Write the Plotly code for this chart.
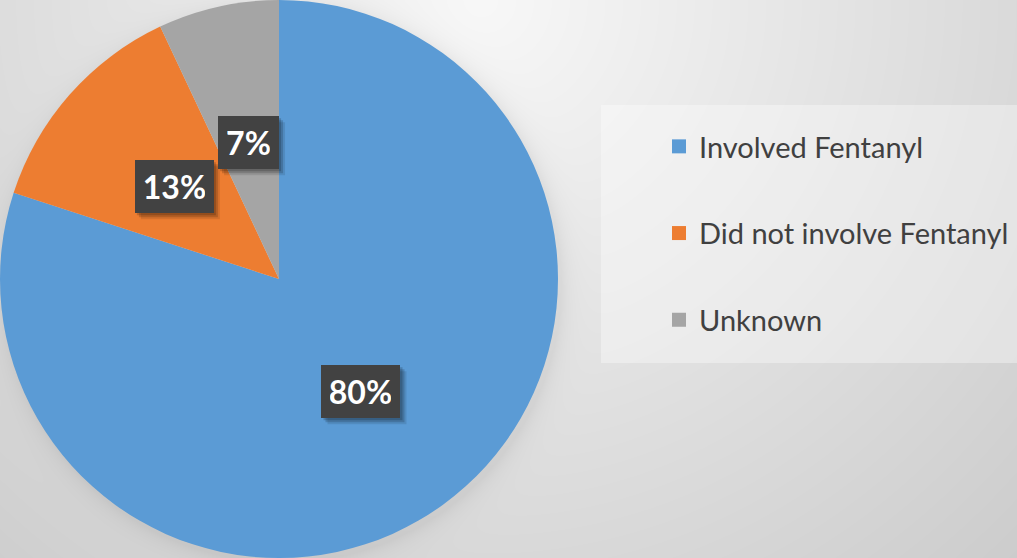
import base64, struct, zlib
import numpy as np
import plotly.graph_objects as go

# ---- data ----
categories = ["Involved Fentanyl", "Did not involve Fentanyl", "Unknown"]
values = [80, 13, 7]
label_text = ["80%", "13%", "7%"]
colors = ["#5B9BD5", "#ED7D31", "#A5A5A5"]

W, H = 1017, 558
PIE_W = 558  # pie domain width in px

# ---- background: soft radial gradient + pie shadow ----
yy, xx = np.mgrid[0:H, 0:W]
d = np.hypot(xx - 480, yy - 0)
bg = 248 - 0.056 * d
do = np.hypot(xx - 282, yy - 283) - 279
bg -= np.where(do > 0, 14 * np.exp(-do / 10.0), 14)
bg = np.clip(bg, 0, 255).astype(np.uint8)


def to_png(a):
    h, w = a.shape
    raw = b"".join(b"\x00" + a[i].tobytes() for i in range(h))

    def chunk(t, dat):
        c = struct.pack(">I", len(dat)) + t + dat
        return c + struct.pack(">I", zlib.crc32(t + dat) & 0xFFFFFFFF)

    return (b"\x89PNG\r\n\x1a\n"
            + chunk(b"IHDR", struct.pack(">IIBBBBB", w, h, 8, 0, 0, 0, 0))
            + chunk(b"IDAT", zlib.compress(raw, 9))
            + chunk(b"IEND", b""))


bg_uri = "data:image/png;base64," + base64.b64encode(to_png(bg)).decode()

fig = go.Figure()
fig.add_trace(go.Pie(
    labels=categories, values=values, sort=False, direction="clockwise",
    rotation=0, marker=dict(colors=colors, line=dict(width=0)),
    textinfo="none", hoverinfo="label+percent", showlegend=False,
    domain=dict(x=[0, PIE_W / W], y=[0, 1]),
))

# legend entries
for name, c in zip(categories, colors):
    fig.add_trace(go.Scatter(
        x=[None], y=[None], mode="markers", name=name, legendgroup=name,
        marker=dict(symbol="square", size=14, color=c, line=dict(width=0)),
    ))

# data labels at half radius of each slice's mid-angle
total = float(sum(values))
cum = 0.0
annotations = []
shapes = [dict(type="rect", xref="paper", yref="paper",
               x0=601 / W, x1=1, y0=1 - 363 / H, y1=1 - 105 / H,
               fillcolor="rgba(255,255,255,0.35)", line=dict(width=0),
               layer="below")]
cx, cy = (PIE_W / 2) / W, 0.5
rr = PIE_W / 2 * 0.5
for v, t in zip(values, label_text):
    mid = (cum + v / 2) / total * 2 * np.pi
    cum += v
    lx = cx + rr * np.sin(mid) / W
    ly = cy + rr * np.cos(mid) / H
    bw = 18 * len(t) + 7
    bh = 35
    pad = 9
    hw, hh = bw / 2 + pad, bh / 2 + pad
    for off, alpha in ((6, 0.10), (4, 0.16), (2, 0.18)):
        shapes.append(dict(type="rect", xref="paper", yref="paper",
                           xsizemode="pixel", ysizemode="pixel",
                           xanchor=lx, yanchor=ly,
                           x0=-hw + off, x1=hw + off,
                           y0=-hh - off, y1=hh - off,
                           fillcolor=f"rgba(0,0,0,{alpha})",
                           line=dict(width=0), layer="above"))
    annotations.append(dict(
        x=lx, y=ly, xref="paper", yref="paper", showarrow=False,
        xanchor="center", yanchor="middle", text=t,
        width=bw, height=bh, align="center", valign="middle",
        borderpad=pad, borderwidth=0, bgcolor="#424242",
        font=dict(family="Lato", size=32, color="white", weight="bold"),
    ))

fig.update_layout(
    width=W, height=H, margin=dict(l=0, r=0, t=0, b=0),
    paper_bgcolor="#e0e0e0", plot_bgcolor="rgba(0,0,0,0)",
    xaxis=dict(visible=False), yaxis=dict(visible=False),
    images=[dict(source=bg_uri, xref="paper", yref="paper", x=0, y=1,
                 sizex=1, sizey=1, sizing="stretch", layer="below",
                 xanchor="left", yanchor="top")],
    shapes=shapes,
    annotations=annotations,
    legend=dict(x=659 / W, y=1 - 121 / H, xanchor="left", yanchor="top",
                bgcolor="rgba(0,0,0,0)", traceorder="grouped",
                tracegroupgap=46, itemsizing="trace",
                font=dict(family="Lato", size=29, color="#404040")),
    hovermode=False,
)

fig.write_html("out.html", config={"displayModeBar": False},
               post_script="document.body.style.margin='0';")
